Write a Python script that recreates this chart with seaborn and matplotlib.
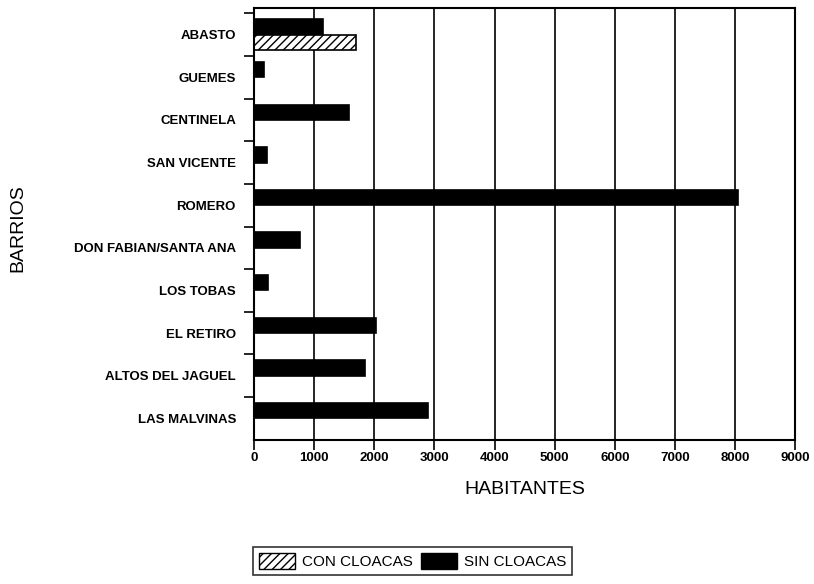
import matplotlib
matplotlib.use("Agg")
import matplotlib.pyplot as plt
import seaborn as sns
import pandas as pd
from matplotlib.patches import Patch
from matplotlib.ticker import MultipleLocator, FixedLocator

barrios = ["ABASTO", "GUEMES", "CENTINELA", "SAN VICENTE", "ROMERO",
           "DON FABIAN/SANTA ANA", "LOS TOBAS", "EL RETIRO",
           "ALTOS DEL JAGUEL", "LAS MALVINAS"]
sin_cloacas = [1150, 170, 1580, 220, 8050, 770, 230, 2030, 1850, 2900]
con_cloacas = [1700, 0, 0, 0, 0, 0, 0, 0, 0, 0]
series = ["SIN CLOACAS", "CON CLOACAS"]

df = pd.DataFrame({
    "barrio": barrios * 2,
    "habitantes": sin_cloacas + con_cloacas,
    "serie": [series[0]] * len(barrios) + [series[1]] * len(barrios),
})

sns.set_theme(style="white")
plt.rcParams["font.family"] = ["Liberation Sans", "DejaVu Sans"]
plt.rcParams["text.color"] = "black"

fig = plt.figure(figsize=(8.14, 5.84), dpi=100)
ax = fig.add_axes([0.312, 0.247, 0.665, 0.739])

sns.barplot(data=df, y="barrio", x="habitantes", hue="serie",
            hue_order=series, order=barrios, orient="h",
            palette={"SIN CLOACAS": "black", "CON CLOACAS": "white"},
            width=0.72, edgecolor="black", linewidth=1.2, legend=False, ax=ax)

for p in ax.containers[1]:
    p.set_hatch("////")
    p.set_facecolor("white")
    p.set_edgecolor("black")

ax.set_xlim(0, 9000)
ax.set_ylim(len(barrios) - 0.5, -0.62)
ax.xaxis.set_major_locator(MultipleLocator(1000))
ax.grid(axis="x", color="black", linewidth=1.2)
ax.grid(axis="y", visible=False)
ax.set_axisbelow(True)
for s in ax.spines.values():
    s.set_color("black")
    s.set_linewidth(1.5)

ax.yaxis.set_minor_locator(FixedLocator([i - 0.5 for i in range(len(barrios))]))
ax.tick_params(axis="y", which="major", length=0, pad=13)
ax.tick_params(axis="y", which="minor", length=7, width=1.2, color="black",
               left=True, direction="out")
ax.tick_params(axis="x", which="major", length=7, width=1.2, color="black",
               bottom=True, direction="out", pad=2)
for lab in ax.get_yticklabels() + ax.get_xticklabels():
    lab.set_fontweight("bold")
    lab.set_fontsize(9.5)
    lab.set_color("black")

ax.set_xlabel("HABITANTES", fontsize=14, color="black", labelpad=12)
ax.set_ylabel("BARRIOS", fontsize=14, color="black")
ax.yaxis.set_label_coords(-0.42, 0.49)

handles = [Patch(facecolor="white", edgecolor="black", hatch="////"),
           Patch(facecolor="black", edgecolor="black")]
leg = fig.legend(handles, ["CON CLOACAS", "SIN CLOACAS"], ncol=2,
                 loc="center", bbox_to_anchor=(0.507, 0.039),
                 frameon=True, fancybox=False, fontsize=11,
                 handlelength=2.35, handleheight=1.2, columnspacing=0.5,
                 handletextpad=0.45, borderpad=0.4)
leg.get_frame().set_edgecolor("black")
leg.get_frame().set_linewidth(1.2)
for t in leg.get_texts():
    t.set_color("black")

fig.savefig("out.png", dpi=100)
